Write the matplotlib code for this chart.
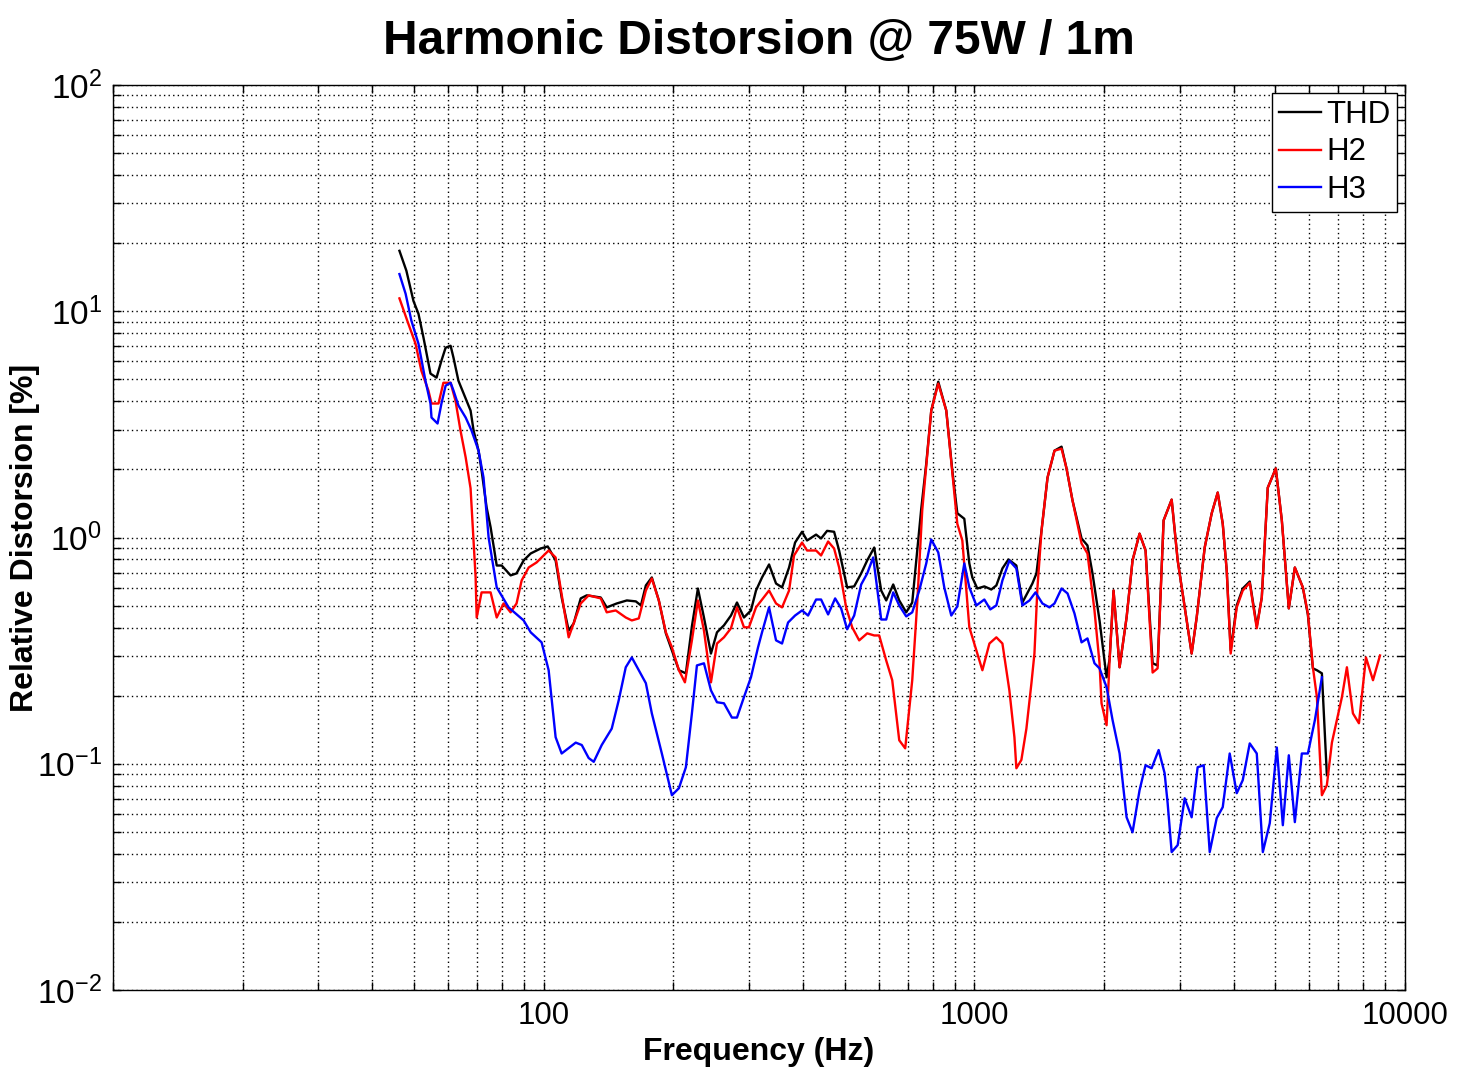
import matplotlib
matplotlib.use("Agg")
import matplotlib.pyplot as plt
from matplotlib.ticker import LogLocator, NullFormatter, FixedLocator, FixedFormatter

plt.rcParams['font.family'] = ['Liberation Sans', 'DejaVu Sans']
plt.rcParams['mathtext.fontset'] = 'custom'
plt.rcParams['mathtext.rm'] = 'Liberation Sans'
plt.rcParams['mathtext.it'] = 'Liberation Sans:italic'
plt.rcParams['mathtext.bf'] = 'Liberation Sans:bold'

title = "Harmonic Distorsion @ 75W / 1m"
xlabel = "Frequency (Hz)"
ylabel = "Relative Distorsion [%]"
series_names = ["THD", "H2", "H3"]
xtick_values = [100, 1000, 10000]
xtick_labels = ["100", "1000", "10000"]

thd_freq = [46.25, 48.0, 49.85, 51.2, 52.6, 54.6, 56.4, 57.9, 59.2, 60.8, 61.75, 63.4, 65.2, 67.65, 68.75,
            70.6, 71.75, 73.7, 75.3, 77.8, 79.9, 83.8, 86.5, 89.85, 93.3, 98.4, 102.2, 106.6, 110.1, 114.3,
            117.4, 121.9, 125.9, 135.7, 140.1, 147.8, 156.0, 163.7, 168.2, 172.7, 178.3, 185.1, 192.2, 198.5,
            206.1, 213.9, 220.9, 228.1, 235.6, 244.6, 252.6, 262.2, 272.2, 281.1, 291.8, 302.9, 311.2, 321.4,
            333.7, 346.4, 357.7, 371.4, 383.5, 398.1, 408.9, 429.1, 440.7, 455.1, 472.5, 485.3, 506.6, 526.0,
            546.1, 564.0, 585.5, 607.8, 624.3, 648.1, 669.3, 694.8, 717.5, 733.0, 752.9, 773.3, 794.3, 824.6,
            860.7, 888.8, 913.0, 947.8, 973.6, 989.3, 1016, 1055, 1095, 1125, 1162, 1200, 1252, 1293, 1364,
            1394, 1432, 1479, 1535, 1594, 1637, 1690, 1774, 1831, 1881, 1953, 2028, 2061, 2105, 2174, 2257,
            2330, 2419, 2498, 2594, 2664, 2751, 2872, 2966, 3079, 3196, 3283, 3427, 3558, 3674, 3774, 3855,
            3938, 4067, 4200, 4360, 4527, 4650, 4801, 5012, 5176, 5373, 5549, 5791, 5950, 6111, 6244, 6412,
            6585]
thd_vals = [18.5, 15.1, 11.1, 9.75, 7.64, 5.30, 5.09, 6.05, 6.90, 7.04, 6.23, 4.93, 4.32, 3.64, 2.97,
            2.42, 1.98, 1.36, 1.11, 0.752, 0.752, 0.680, 0.694, 0.792, 0.850, 0.894, 0.913, 0.792, 0.543, 0.388,
            0.417, 0.538, 0.555, 0.543, 0.491, 0.511, 0.527, 0.522, 0.501, 0.614, 0.666, 0.527, 0.377, 0.317,
            0.259, 0.251, 0.405, 0.595, 0.443, 0.307, 0.381, 0.409, 0.452, 0.516, 0.443, 0.476, 0.583, 0.666,
            0.760, 0.626, 0.602, 0.737, 0.950, 1.06, 0.970, 1.03, 0.99, 1.07, 1.06, 0.876, 0.602, 0.608,
            0.694, 0.792, 0.903, 0.583, 0.527, 0.620, 0.527, 0.467, 0.516, 0.792, 1.34, 2.12, 3.64, 4.88,
            3.64, 1.98, 1.28, 1.21, 0.768, 0.666, 0.595, 0.608, 0.589, 0.614, 0.730, 0.800, 0.752, 0.516, 0.626,
            0.694, 1.07, 1.84, 2.42, 2.52, 2.02, 1.46, 0.99, 0.922, 0.694, 0.430, 0.241, 0.29, 0.583, 0.267, 0.443,
            0.792, 1.04, 0.876, 0.278, 0.272, 1.19, 1.47, 0.792, 0.491, 0.307, 0.443, 0.903, 1.28, 1.58, 1.15, 0.715,
            0.317, 0.501, 0.595, 0.639, 0.405, 0.543, 1.66, 2.02, 1.19, 0.486, 0.737, 0.602, 0.455, 0.264, 0.259, 0.251,
            0.089]

h2_freq = [46.25, 48.5, 50.4, 52.0, 54.0, 54.9, 57.0, 58.5, 60.8, 62.4, 64.1, 65.9, 67.65, 69.5, 69.9,
           71.75, 75.3, 77.8, 80.7, 83.8, 86.5, 88.9, 92.3, 96.3, 102.7, 106.6, 114.3, 121.9, 127.2, 135.7,
           140.1, 147.0, 155.1, 160.2, 166.3, 172.7, 178.3, 185.1, 192.2, 198.5, 206.1, 212.8, 220.9, 228.1,
           235.6, 244.6, 252.6, 262.2, 272.2, 281.1, 291.8, 299.7, 311.2, 333.7, 346.4, 357.7, 371.4, 381.4,
           398.1, 408.9, 429.1, 440.7, 457.6, 472.5, 485.3, 503.9, 520.4, 540.3, 564.0, 585.5, 601.3, 624.3,
           644.7, 669.3, 691.0, 717.5, 737.0, 756.9, 794.3, 824.6, 860.7, 913.0, 937.8, 973.6, 1011, 1044,
           1084, 1125, 1162, 1206, 1239, 1252, 1286, 1321, 1357, 1379, 1401, 1432, 1479, 1535, 1594, 1637,
           1690, 1774, 1831, 1901, 1953, 1974, 2028, 2061, 2105, 2174, 2257, 2330, 2419, 2498, 2594, 2664,
           2751, 2872, 2966, 3079, 3196, 3283, 3427, 3558, 3674, 3774, 3855, 3938, 4067, 4200, 4360, 4527,
           4650, 4801, 5012, 5176, 5373, 5549, 5791, 5950, 6111, 6244, 6412, 6585, 6765, 6949, 7137, 7330,
           7570, 7817, 8116, 8427, 8748]
h2_vals = [11.4, 8.81, 7.19, 5.46, 4.46, 3.91, 3.91, 4.83, 4.83, 4.03, 2.97, 2.26, 1.65, 0.666, 0.443,
           0.572, 0.572, 0.443, 0.511, 0.467, 0.511, 0.646, 0.737, 0.776, 0.876, 0.816, 0.362, 0.511, 0.555, 0.538,
           0.467, 0.476, 0.443, 0.430, 0.439, 0.583, 0.659, 0.527, 0.381, 0.327, 0.259, 0.229, 0.351, 0.527,
           0.388, 0.229, 0.340, 0.362, 0.397, 0.491, 0.401, 0.401, 0.491, 0.583, 0.511, 0.491, 0.583, 0.833,
           0.950, 0.876, 0.876, 0.833, 0.960, 0.894, 0.737, 0.491, 0.401, 0.351, 0.377, 0.369, 0.369, 0.286,
           0.234, 0.127, 0.117, 0.234, 0.516, 1.32, 3.64, 4.79, 3.64, 1.15, 0.970, 0.401, 0.317, 0.259,
           0.340, 0.362, 0.340, 0.211, 0.131, 0.0955, 0.104, 0.143, 0.227, 0.307, 0.595, 1.07, 1.84, 2.42, 2.47, 2.02,
           1.46, 0.941, 0.850, 0.476, 0.278, 0.185, 0.148, 0.286, 0.583, 0.267, 0.443, 0.792, 1.04, 0.876, 0.253, 0.264,
           1.19, 1.47, 0.792, 0.491, 0.307, 0.443, 0.903, 1.28, 1.58, 1.15, 0.715, 0.307, 0.491, 0.583, 0.63, 0.397,
           0.543, 1.66, 2.02, 1.19, 0.486, 0.737, 0.602, 0.462, 0.267, 0.197, 0.0726, 0.0804, 0.124, 0.156, 0.197, 0.267,
           0.167, 0.151, 0.295, 0.234, 0.301]

h3_freq = [46.25, 47.8, 49.3, 51.2, 53.15, 54.6, 54.9, 56.7, 57.9, 59.2, 60.8, 61.75, 63.4, 65.9, 68.0,
           70.6, 72.5, 74.5, 77.8, 82.9, 89.85, 93.3, 98.9, 102.7, 106.6, 110.1, 118.7, 122.6, 127.2, 130.7,
           136.4, 143.9, 149.4, 155.1, 160.2, 172.7, 178.3, 188.1, 198.5, 206.1, 213.9, 220.9, 226.9, 235.6,
           244.6, 252.6, 262.2, 273.6, 281.1, 291.8, 302.9, 314.6, 321.4, 333.7, 346.4, 357.7, 369.4, 383.5,
           398.1, 411.1, 429.1, 440.7, 457.6, 475.1, 490.6, 506.6, 526.0, 546.1, 564.0, 582.3, 607.8, 624.3,
           648.1, 669.3, 694.8, 717.5, 744.9, 773.3, 794.3, 824.6, 851.5, 884.1, 913.0, 947.8, 973.6, 1011,
           1055, 1089, 1125, 1162, 1206, 1252, 1293, 1343, 1387, 1439, 1494, 1535, 1594, 1646, 1708, 1774,
           1831, 1901, 1953, 2028, 2094, 2174, 2257, 2330, 2419, 2498, 2580, 2679, 2766, 2811, 2872, 2966,
           3079, 3196, 3300, 3409, 3520, 3654, 3774, 3917, 4067, 4200, 4360, 4527, 4676, 4853, 5039, 5204,
           5373, 5549, 5760, 5950, 6177, 6412]
h3_vals = [14.6, 11.95, 9.08, 7.19, 4.93, 3.91, 3.39, 3.19, 3.91, 4.69, 4.83, 4.46, 3.83, 3.39, 2.97,
           2.42, 1.84, 1.0, 0.602, 0.491, 0.430, 0.381, 0.344, 0.259, 0.131, 0.111, 0.124, 0.121, 0.106, 0.102,
           0.121, 0.143, 0.191, 0.267, 0.295, 0.227, 0.167, 0.111, 0.0726, 0.078, 0.0965, 0.167, 0.272, 0.278,
           0.211, 0.187, 0.185, 0.160, 0.160, 0.197, 0.241, 0.327, 0.381, 0.491, 0.351, 0.340, 0.421, 0.452,
           0.476, 0.452, 0.532, 0.532, 0.457, 0.538, 0.486, 0.393, 0.452, 0.620, 0.694, 0.816, 0.434, 0.434,
           0.572, 0.501, 0.448, 0.467, 0.583, 0.768, 0.980, 0.859, 0.602, 0.452, 0.496, 0.768, 0.602, 0.501,
           0.532, 0.481, 0.501, 0.646, 0.790, 0.730, 0.501, 0.527, 0.572, 0.511, 0.491, 0.511, 0.595, 0.566, 0.462, 0.344,
           0.358, 0.278, 0.264, 0.218, 0.156, 0.111, 0.058, 0.0498, 0.0764, 0.0985, 0.0955, 0.115, 0.0908, 0.0669, 0.0407, 0.0437,
           0.0704, 0.058, 0.0965, 0.0985, 0.0407, 0.0575, 0.0643, 0.111, 0.0741, 0.0846, 0.123, 0.111, 0.0407, 0.0546, 0.118, 0.0535,
           0.109, 0.0552, 0.111, 0.111, 0.156, 0.241]

fig = plt.figure(figsize=(14.67, 10.82), dpi=100)
ax = fig.add_axes([113 / 1467, 1 - 990 / 1082, (1405 - 113) / 1467, (990 - 85) / 1082])

ax.plot(thd_freq, thd_vals, color='black', lw=1.7, label=series_names[0])
ax.plot(h2_freq, h2_vals, color='#ff0000', lw=1.7, label=series_names[1])
ax.plot(h3_freq, h3_vals, color='#0000ff', lw=1.7, label=series_names[2])

ax.set_xscale('log')
ax.set_yscale('log')
ax.set_xlim(10, 10000)
ax.set_ylim(0.01, 100)

ax.xaxis.set_major_locator(FixedLocator(xtick_values))
ax.xaxis.set_major_formatter(FixedFormatter(xtick_labels))
ax.xaxis.set_minor_locator(LogLocator(base=10, subs=range(1, 10), numticks=20))
ax.xaxis.set_minor_formatter(NullFormatter())
ax.yaxis.set_major_locator(LogLocator(base=10, numticks=10))
ax.yaxis.set_minor_locator(LogLocator(base=10, subs=range(2, 10), numticks=20))
ax.yaxis.set_minor_formatter(NullFormatter())

ax.grid(True, which='both', color='black', linestyle=(0, (1, 2.3)), linewidth=1.0)
ax.tick_params(which='both', direction='in', top=True, right=True, length=5.5, width=1.0, pad=8)
ax.tick_params(axis='x', labelsize=22.5)
ax.tick_params(axis='y', labelsize=24)
for s in ax.spines.values():
    s.set_linewidth(1.0)
    s.set_color('black')

ax.set_title(title, fontsize=34.5, fontweight='bold', pad=22)
ax.set_xlabel(xlabel, fontsize=23, fontweight='bold', labelpad=4)
ax.set_ylabel(ylabel, fontsize=23, fontweight='bold')
ax.yaxis.set_label_coords(-0.0565, 0.5)

leg = ax.legend(loc='upper right', fontsize=22.5, frameon=True, fancybox=False, framealpha=1,
                edgecolor='black', handlelength=1.35, handletextpad=0.15, borderpad=0.22,
                labelspacing=0.25, borderaxespad=0.25)
leg.get_frame().set_linewidth(1.0)

fig.savefig('out.png', dpi=100)
